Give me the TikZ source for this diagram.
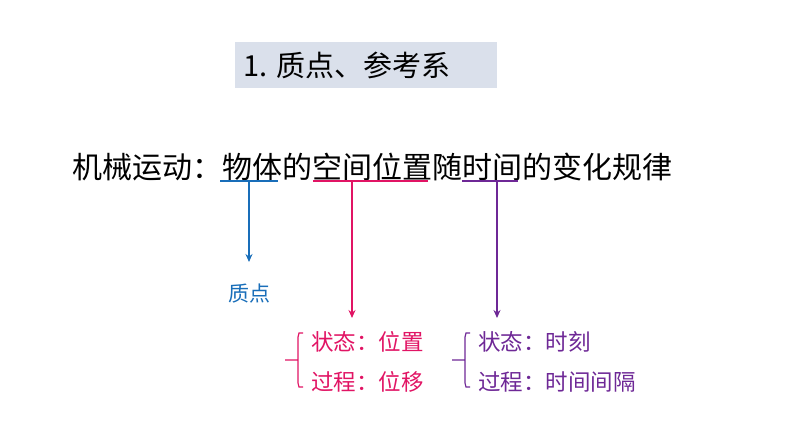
\documentclass[tikz,border=0pt]{standalone}
\usepackage{fontspec}
\usetikzlibrary{arrows.meta}
\setmainfont{Noto Sans CJK SC}
\begin{document}
\begin{tikzpicture}[x=1pt,y=-1pt,
  lbl/.style={inner sep=0pt,anchor=west,font=\fontsize{22.5}{25}\selectfont},
  ln/.style={line width=1.4pt},
  arr/.style={ln,-{Stealth[length=8pt,width=7pt]}}]
\useasboundingbox (0,0) rectangle (794,447);
\definecolor{bl}{RGB}{25,110,185}
\definecolor{rd}{RGB}{225,20,100}
\definecolor{pp}{RGB}{110,40,150}
\fill[fill={rgb,255:red,218;green,224;blue,235}] (235,42) rectangle (497,88);
\node[lbl,font=\fontsize{29}{32}\selectfont] (title) at (243,65) {1. 质点、参考系};
\node[lbl,font=\fontsize{30}{33}\selectfont] (main) at (72,167) {机械运动：物体的空间位置随时间的变化规律};
\coordinate (b1) at (220,181); \coordinate (b2) at (278,181);
\coordinate (r1) at (313,181); \coordinate (r2) at (428,181);
\coordinate (p1) at (462,181); \coordinate (p2) at (518,181);
\draw[ln,bl] (b1) -- (b2);
\draw[ln,rd] (r1) -- (r2);
\draw[ln,pp] (p1) -- (p2);
\node[lbl,bl,anchor=center,font=\fontsize{21}{24}\selectfont] (zd) at (249,294) {质点};
\coordinate (ra) at (352,181); \coordinate (rb) at (352,318);
\coordinate (pa) at (497,181); \coordinate (pb) at (497,318);
\draw[arr,bl] (249,181) -- (249,262);
\draw[arr,rd] (ra) -- (rb);
\draw[arr,pp] (pa) -- (pb);
\draw[line width=1.2pt,rd] (285,360) -- (298,360) (303,333) -- (299,333) -- (298,337) -- (298,383) -- (299,387) -- (303,387);
\draw[line width=1.2pt,pp] (452,360) -- (465,360) (470,333) -- (466,333) -- (465,337) -- (465,383) -- (466,387) -- (470,387);
\node[lbl,rd] (r1t) at (311,342) {状态：位置};
\node[lbl,rd] (r2t) at (311,382) {过程：位移};
\node[lbl,pp] (p1t) at (478,342) {状态：时刻};
\node[lbl,pp] (p2t) at (478,382) {过程：时间间隔};
\end{tikzpicture}
\end{document}
